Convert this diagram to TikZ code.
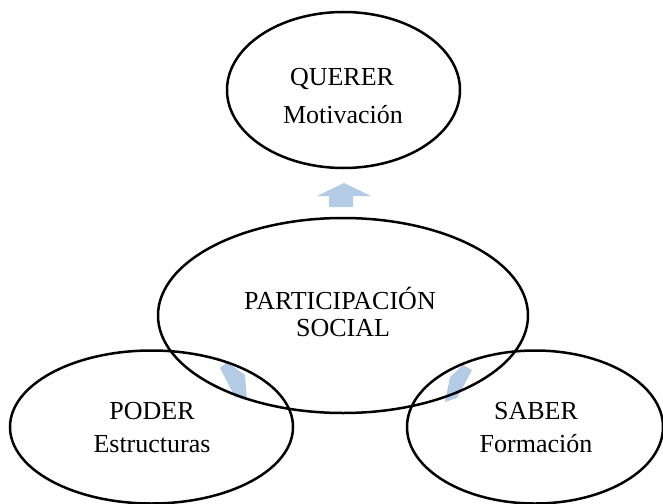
\documentclass[tikz,border=0pt]{standalone}
\usepackage{fontspec}
\setmainfont{Liberation Serif}
\usetikzlibrary{shapes.geometric}
\definecolor{arrowblue}{RGB}{180,203,230}
\tikzset{
  oval/.style={draw=black, line width=2.5pt, ellipse, inner sep=0pt},
  lbl/.style={font=\fontsize{26}{26}\selectfont, anchor=base, inner sep=0pt},
  blockarrow/.style={fill=arrowblue, draw=none}
}
\begin{document}
\begin{tikzpicture}[x=1pt,y=-1pt]
\useasboundingbox (0,0) rectangle (663,503);
% block arrows (drawn below the ovals)
\fill[blockarrow] (317,196) -- (344,183) -- (371,196) -- (353,196) -- (353,207) -- (329,207) -- (329,196) -- cycle;
\fill[blockarrow] (220,368) -- (227,362) -- (245,375) -- (247,400) -- (235,397) -- cycle;
\fill[blockarrow] (463,365) -- (472,370) -- (457,398) -- (445,402) -- (450,377) -- cycle;
% ovals
\node[oval, minimum width=233pt, minimum height=156pt] (querer) at (343.5,90) {};
\node[oval, minimum width=370pt, minimum height=195pt] (part) at (343,315.5) {};
\node[oval, minimum width=283pt, minimum height=153pt] (poder) at (151.5,427) {};
\node[oval, minimum width=256pt, minimum height=153pt] (saber) at (535,427) {};
% labels
\node[lbl] (t1) at (342,85) {QUERER};
\node[lbl] (t2) at (343,123) {Motivación};
\node[lbl] (t3) at (340,309) {PARTICIPACIÓN};
\node[lbl] (t4) at (343,336) {SOCIAL};
\node[lbl] (t5) at (152,419) {PODER};
\node[lbl] (t6) at (152,452) {Estructuras};
\node[lbl] (t7) at (536,419) {SABER};
\node[lbl] (t8) at (536,452) {Formación};
\end{tikzpicture}
\end{document}
